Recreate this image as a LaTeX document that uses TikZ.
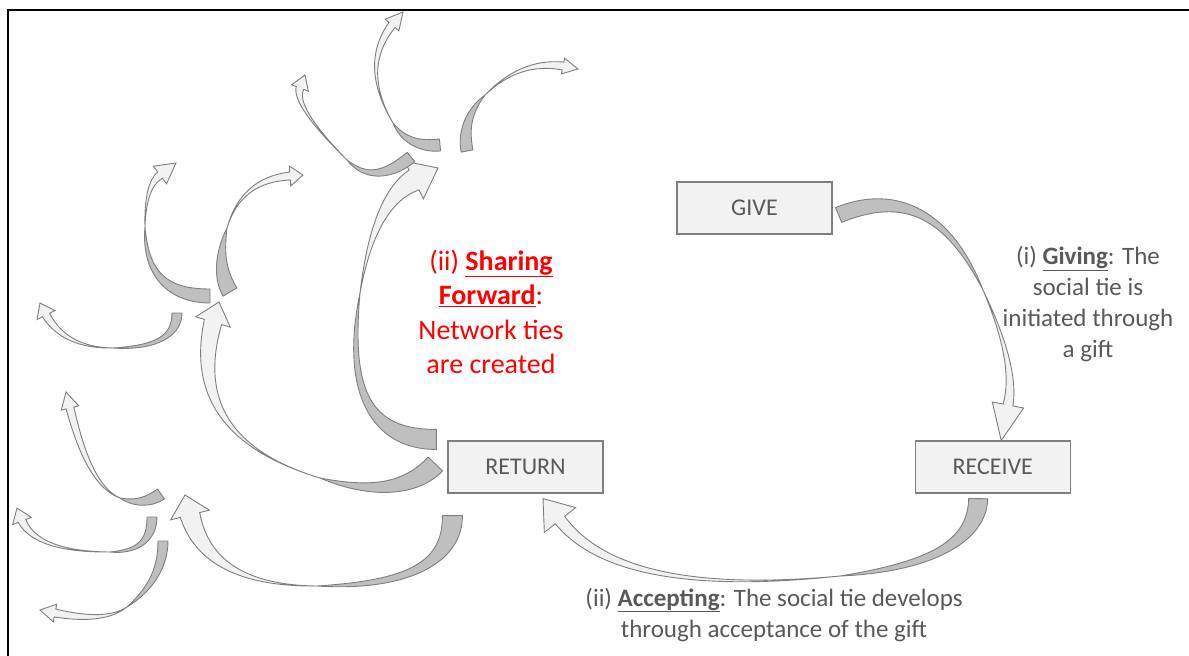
\documentclass[tikz,border=0pt]{standalone}
\usepackage{fontspec}
\setmainfont{Carlito}
\usetikzlibrary{calc,positioning}
\definecolor{boxfill}{HTML}{F2F2F2}
\definecolor{boxline}{HTML}{7F7F7F}
\definecolor{labelgray}{HTML}{595959}
\definecolor{ribbondark}{HTML}{BFBFBF}
\definecolor{ribbonlight}{HTML}{F2F2F2}
\definecolor{ribbonline}{HTML}{7F7F7F}
\tikzset{
	stage/.style={
		rectangle,
		draw=boxline, fill=boxfill, line width=1.2pt,
		minimum width=155pt, minimum height=52pt,
		inner sep=0pt,
		text=labelgray,
		font=\fontsize{24}{29}\selectfont,
	},
	note/.style={
		align=center,
		text=labelgray,
		font=\fontsize{25}{31}\selectfont,
	},
	ribbon back/.style={draw=ribbonline, fill=ribbondark, line width=0.9pt, line join=round},
	ribbon face/.style={draw=ribbonline, fill=ribbonlight, line width=0.9pt},
}
% curved ribbon arrow: tail, ctrl, twist, ctrl, head base, tip, tail/band/barb half widths
\newcommand{\ribbon}[9]{
	\coordinate (rT) at (#1);
	\coordinate (rA) at (#2);
	\coordinate (rM) at (#3);
	\coordinate (rB) at (#4);
	\coordinate (rH) at (#5);
	\coordinate (rK) at (#6);
	% dark underside, from the tail to the twist
	\coordinate (rT1) at ($(rT)!#7!90:(rA)$);
	\coordinate (rT2) at ($(rT)!#7!-90:(rA)$);
	\coordinate (rA1) at ($(rA)+(rT1)-(rT)$);
	\coordinate (rA2) at ($(rA)+(rT2)-(rT)$);
	\coordinate (rP) at ($(rM)!0.67!(rA)$);
	\coordinate (rQ1) at ($(rP)!#7!-90:(rA)$);
	\coordinate (rQ2) at ($(rP)!#7!90:(rA)$);
	% light face, from the twist to the head
	\coordinate (rH1) at ($(rH)!#8!90:(rK)$);
	\coordinate (rH2) at ($(rH)!#8!-90:(rK)$);
	\coordinate (rC1) at ($(rB)+0.5*(rH1)-0.5*(rH)$);
	\coordinate (rC2) at ($(rB)+0.5*(rH2)-0.5*(rH)$);
	\coordinate (rW1) at ($(rH)!#9!90:(rK)$);
	\coordinate (rW2) at ($(rH)!#9!-90:(rK)$);
	\draw[ribbon face] (rM) .. controls ($(rM)!0.67!(rC1)$) and ($(rH1)!0.67!(rC1)$) .. (rH1)
		-- (rW1) -- (rK) -- (rW2) -- (rH2)
		.. controls ($(rH2)!0.67!(rC2)$) and ($(rM)!0.67!(rC2)$) .. (rM) -- cycle;
	\draw[ribbon back] (rT1) .. controls ($(rT1)!0.67!(rA1)$) and ($(rP)!0.6!(rQ1)$) .. (rM)
		.. controls ($(rP)!0.6!(rQ2)$) and ($(rT2)!0.67!(rA2)$) .. (rT2) -- cycle;
}

\begin{document}
\begin{tikzpicture}[x=1pt,y=-1pt]
\useasboundingbox (0,0) rectangle (1189,656);
\draw[line width=2pt] (8,656) -- (8,10) -- (1189,10);

\node	(give)		[stage]	at (754.5,208)	{GIVE};
\node	(return)	[stage]	at (525.5,467)	{RETURN};
\node	(receive)	[stage]	[right=311pt of return]	{RECEIVE};

\node	(giving)	[note]	at (1088,304)	{(i) \underline{\textbf{Giving}}: The\\ social tie is\\ initiated through\\ a gift};
\node	(accepting)	[note]	at (774,614.5)	{(ii) \underline{\textbf{Accepting}}: The social tie develops\\ through acceptance of the gift};
\node	(sharing)	[note, text=red, font=\fontsize{28}{34.5}\selectfont]	at (491,312)	{(ii) \underline{\textbf{Sharing}}\\ \underline{\textbf{Forward}}:\\ Network ties\\ are created};

% the gift cycle
\ribbon{$(give.east)+(6,7)$}{932,177}{983,290}{1017,365}{1008,405}{$(receive.north)+(8.5,0)$}{8pt}{5pt}{16pt}
\ribbon{$(receive.south)+(-14.5,5)$}{977,562}{840,576}{620,598}{560,520}{$(return.south)+(17.5,5)$}{9.5pt}{6pt}{20pt}

% sharing forward
\ribbon{$(return.north west)+(-11,-1)$}{338,440}{360,293}{374,200}{414,180}{438,168}{10pt}{11pt}{21pt}
\ribbon{$(return.west)+(-12,-3)$}{399,502}{320,478}{184,437}{213,322}{219,302}{10pt}{9pt}{18pt}
\ribbon{$(return.south west)+(5,22)$}{453,586}{317,586}{208,586}{190,515}{185,495}{10pt}{10pt}{20pt}
\ribbon{161,494}{142,507}{120,498}{89,486}{70,408}{66,392}{6pt}{4pt}{9pt}
\ribbon{177,313}{177,348}{113,348}{65,348}{46,315}{40,303}{5pt}{4pt}{10pt}
\ribbon{210,296}{145,296}{145,227}{145,186}{160,175}{176,163}{7pt}{4pt}{11pt}
\ribbon{230,292}{215,267}{227,228}{241,180}{290,176}{303,175}{8pt}{4pt}{10pt}
\ribbon{411,157}{374,187}{347,160}{293,106}{300,88}{305,75}{6pt}{4pt}{9pt}
\ribbon{440,145}{408,148}{393,123}{360,67}{392,25}{403,12}{6pt}{4pt}{9pt}
\ribbon{467,151}{461,119}{485,95}{520,60}{563,66}{578,69}{6pt}{4pt}{8pt}
\ribbon{152,517}{152,552}{110,552}{37,552}{22,521}{17,508}{5pt}{4pt}{10pt}
\ribbon{163,541}{163,580}{127,607}{105,623}{55,613}{40,610}{5pt}{4pt}{9pt}

\end{tikzpicture}
\end{document}
